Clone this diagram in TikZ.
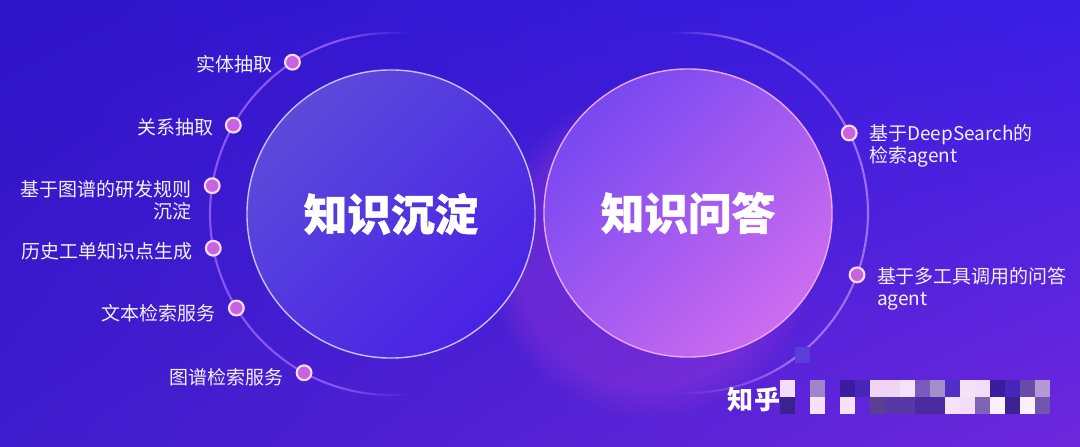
\documentclass[tikz,border=0pt]{standalone}
\usepackage{fontspec}
\setmainfont{Noto Sans CJK SC}
\newfontfamily\titlefont{Noto Sans CJK SC}[BoldFeatures={FakeBold=1.2}]
\usetikzlibrary{positioning,fadings,shadings}
\definecolor{bgul}{HTML}{3014C8}
\definecolor{bgur}{HTML}{3A1EE4}
\definecolor{bgll}{HTML}{3C1CCC}
\definecolor{bglr}{HTML}{6E28DC}
\definecolor{lctop}{HTML}{5C4ADA}
\definecolor{lcbot}{HTML}{4822E6}
\definecolor{lcring}{HTML}{C8C0F8}
\definecolor{rctop}{HTML}{7848F0}
\definecolor{rcbot}{HTML}{CC6CF0}
\definecolor{rcring}{HTML}{ECA8F8}
\definecolor{glowpink}{HTML}{B040D8}
\definecolor{leftarc}{HTML}{8C56F4}
\definecolor{rightarc}{HTML}{A070F2}
\definecolor{dotfill}{HTML}{C862E2}
\definecolor{dotring}{HTML}{F6DCF8}
\definecolor{lbltext}{HTML}{F4F0FF}
% mosaic colours
\definecolor{mwa}{HTML}{F4DDF6}
\definecolor{mwb}{HTML}{F6E2F8}
\definecolor{mwc}{HTML}{FAF0FA}
\definecolor{mpk}{HTML}{F0D4F4}
\definecolor{mga}{HTML}{9C86C8}
\definecolor{mgb}{HTML}{A48ECC}
\definecolor{mgc}{HTML}{B49AD4}
\definecolor{mgd}{HTML}{7E64B4}
\definecolor{mda}{HTML}{3A1C9E}
\definecolor{mdb}{HTML}{4526B8}
\definecolor{mdc}{HTML}{3A2290}
\definecolor{mma}{HTML}{7C58C0}
\definecolor{mmb}{HTML}{5030C4}
\definecolor{mmc}{HTML}{6A4AA8}
\definecolor{mmd}{HTML}{5A4090}
\definecolor{mme}{HTML}{5638A8}
\definecolor{mmf}{HTML}{4A2CA0}
\definecolor{mmg}{HTML}{7056B0}
\definecolor{msq}{HTML}{5A3ED8}
\tikzset{
    bigcirc/.style={circle, minimum size=7.2cm, inner sep=0pt, line width=1pt,
        text=white, font=\titlefont\bfseries\fontsize{31}{36}\selectfont},
    dotn/.style={circle, fill=dotfill, draw=dotring, line width=1.5pt,
        minimum size=10.5pt, inner sep=0pt},
    lbl/.style={text=lbltext, inner sep=0pt, font=\fontsize{13.5}{15.6}\selectfont},
    arcline/.style={line width=1.5pt}
}

\begin{document}
\begin{tikzpicture}[x=0.025cm, y=0.025cm]
    % Background
    \useasboundingbox (0,0) rectangle (1080,447);
    \shade[upper left=bgul, upper right=bgur, lower left=bgll, lower right=bglr] (0,0) rectangle (1080,447);

    \coordinate (lc) at (391,233);
    \coordinate (rc) at (688,234);

    % Glow behind the right circle
    \fill[glowpink, opacity=0.3, path fading=circle with fuzzy edge 20 percent] (650,192) circle (165);

    % Outer arcs
    \foreach \a in {83,85,...,273} {
        \pgfmathsetmacro{\op}{min(1,(\a-83)/24,(275-\a)/24)}
        \draw[arcline, leftarc, opacity=\op] ([shift={(\a:181)}]lc) arc[start angle=\a, end angle=\a+2, radius=181];
    }
    \foreach \a in {-95,-93,...,93} {
        \pgfmathsetmacro{\op}{min(1,(\a+95)/40,(95-\a)/24)}
        \draw[arcline, rightarc, opacity=\op] ([shift={(\a:180)}]rc) arc[start angle=\a, end angle=\a+2, radius=180];
    }

    % Circles
    \node[bigcirc, draw=lcring, top color=lctop, bottom color=lcbot, shading angle=45] (kb) at (lc) {知识沉淀};
    \node[bigcirc, draw=rcring, top color=rctop, bottom color=rcbot, shading angle=45] (qa) at (rc) {知识问答};

    % Dots
    \node[dotn] (d1) at ([shift={(123:181)}]lc) {};
    \node[dotn] (d2) at ([shift={(150.6:181)}]lc) {};
    \node[dotn] (d3) at ([shift={(171:181)}]lc) {};
    \node[dotn] (d4) at ([shift={(190.9:181)}]lc) {};
    \node[dotn] (d5) at ([shift={(211.3:181)}]lc) {};
    \node[dotn] (d6) at ([shift={(241.3:181)}]lc) {};
    \node[dotn] (d7) at ([shift={(26.4:180)}]rc) {};
    \node[dotn] (d8) at ([shift={(-20.1:180)}]rc) {};

    % Labels
    \node[lbl, left=8pt of d1, yshift=-1.5pt] (l1) {实体抽取};
    \node[lbl, left=8pt of d2, yshift=-1.5pt] (l2) {关系抽取};
    \node[lbl, left=8.5pt of d3, yshift=-10.5pt, align=right] (l3) {基于图谱的研发规则\\沉淀};
    \node[lbl, left=8.5pt of d4, yshift=-2.5pt] (l4) {历史工单知识点生成};
    \node[lbl, left=8.5pt of d5, yshift=-4pt] (l5) {文本检索服务};
    \node[lbl, left=8.5pt of d6, yshift=-3pt] (l6) {图谱检索服务};
    \node[lbl, right=8pt of d7, yshift=-9pt, align=left] (l7) {基于DeepSearch的\\检索agent};
    \node[lbl, right=8pt of d8, yshift=-10pt, align=left] (l8) {基于多工具调用的问答\\agent};

    % Watermark
    \node[text=white, inner sep=0pt, font=\bfseries\fontsize{18.5}{20}\selectfont] (zh) at (754,47) {知乎};
    \fill[msq] (795,100) rectangle (810,84);
    \foreach \i/\c in {0/mwa, 2/mga, 4/mda, 5/mdb, 6/mpk, 7/mpk, 8/mwb, 9/mma, 10/mgb, 11/mmb, 12/mwb, 13/mwa, 14/mda, 15/mdb, 16/mmc, 17/mgc}
        \fill[\c] (780+15*\i,67) rectangle ++(15,-17);
    \foreach \i/\c in {0/mdc, 2/mwb, 4/mwb, 6/mmd, 7/mme, 8/mme, 9/mmf, 10/mmf, 11/mwb, 12/mwa, 13/mgd, 14/mwc, 15/mdc, 16/mwc, 17/mmg}
        \fill[\c] (780+15*\i,50) rectangle ++(15,-17);
\end{tikzpicture}
\end{document}
